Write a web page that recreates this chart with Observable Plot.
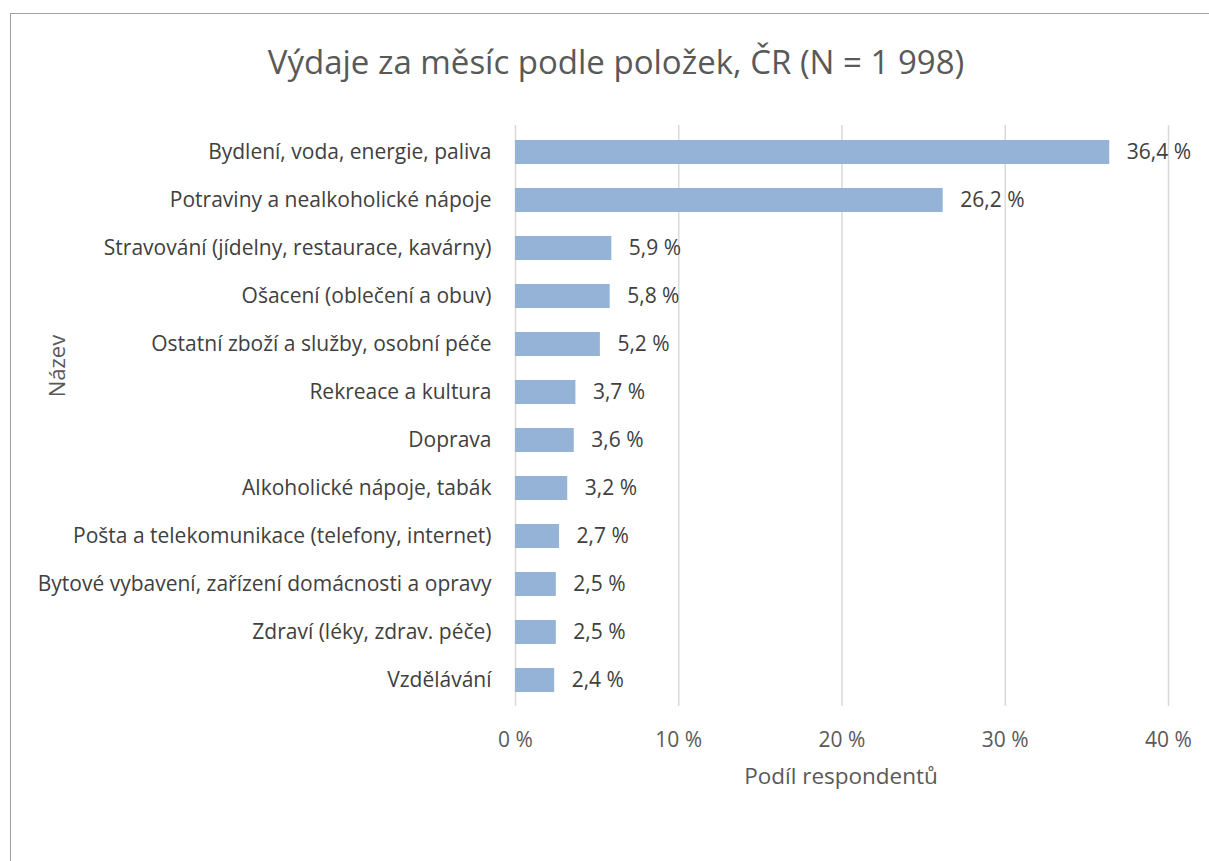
<!DOCTYPE html>
<html>
<head>
<meta charset="utf-8">
<script src="https://cdn.jsdelivr.net/npm/d3@7"></script>
<script src="https://cdn.jsdelivr.net/npm/@observablehq/plot@0.6"></script>
<style>
  html, body { margin: 0; padding: 0; background: #fff; }
  #wrap { position: relative; width: 1209px; height: 861px; overflow: hidden; font-family: "Open Sans", sans-serif; color: #595959; }
  #frame { position: absolute; left: 10px; top: 13px; width: 1220px; height: 900px; border: 1px solid #a0a0a0; box-sizing: border-box; }
  #title { position: absolute; left: 0; width: 1232px; top: 40px; text-align: center; font-size: 33px; line-height: 44px; }
  #chart { position: absolute; left: 0; top: 100px; }
  #ylabel { position: absolute; left: 56px; top: 366px; transform: translate(-50%, -50%) rotate(-90deg); font-size: 22px; white-space: nowrap; }
  #xlabel { position: absolute; left: 841px; top: 775px; transform: translate(-50%, -50%); font-size: 22.5px; white-space: nowrap; }
</style>
</head>
<body>
<div id="wrap">
  <div id="frame"></div>
  <div id="title">Výdaje za měsíc podle položek, ČR (N = 1 998)</div>
  <div id="chart"></div>
  <div id="ylabel">Název</div>
  <div id="xlabel">Podíl respondentů</div>
</div>
<script>
const categories = [
  "Bydlení, voda, energie, paliva",
  "Potraviny a nealkoholické nápoje",
  "Stravování (jídelny, restaurace, kavárny)",
  "Ošacení (oblečení a obuv)",
  "Ostatní zboží a služby, osobní péče",
  "Rekreace a kultura",
  "Doprava",
  "Alkoholické nápoje, tabák",
  "Pošta a telekomunikace (telefony, internet)",
  "Bytové vybavení, zařízení domácnosti a opravy",
  "Zdraví (léky, zdrav. péče)",
  "Vzdělávání"
];
const values = [36.4, 26.2, 5.9, 5.8, 5.2, 3.7, 3.6, 3.2, 2.7, 2.5, 2.5, 2.4];
const xTicks = [0, 10, 20, 30, 40];

const data = categories.map((c, i) => ({name: c, value: values[i]}));
const fmt = v => v.toFixed(1).replace(".", ",") + " %";

const plot = Plot.plot({
  width: 1209,
  height: 761,
  marginLeft: 515,
  marginRight: 41,
  marginTop: 25,
  marginBottom: 155,
  style: {fontFamily: "'Open Sans', sans-serif", fontSize: "21px", color: "#595959", background: "transparent"},
  x: {domain: [0, 40]},
  y: {domain: categories, paddingInner: 0.5, paddingOuter: 0.25},
  marks: [
    Plot.ruleX(xTicks, {stroke: "#d9d9d9", strokeWidth: 1.5}),
    Plot.barX(data, {x: "value", y: "name", fill: "#95b3d7"}),
    Plot.text(data, {x: "value", y: "name", text: d => fmt(d.value), textAnchor: "start", dx: 17, fill: "#404040", fontSize: 21}),
    Plot.axisX({ticks: xTicks, tickFormat: d => d + " %", tickSize: 0, tickPadding: 26, label: null, fontSize: 21, fill: "#595959"}),
    Plot.axisY({tickSize: 0, tickPadding: 24, label: null, fontSize: 21, fill: "#404040"})
  ]
});
document.getElementById("chart").appendChild(plot);
</script>
</body>
</html>
